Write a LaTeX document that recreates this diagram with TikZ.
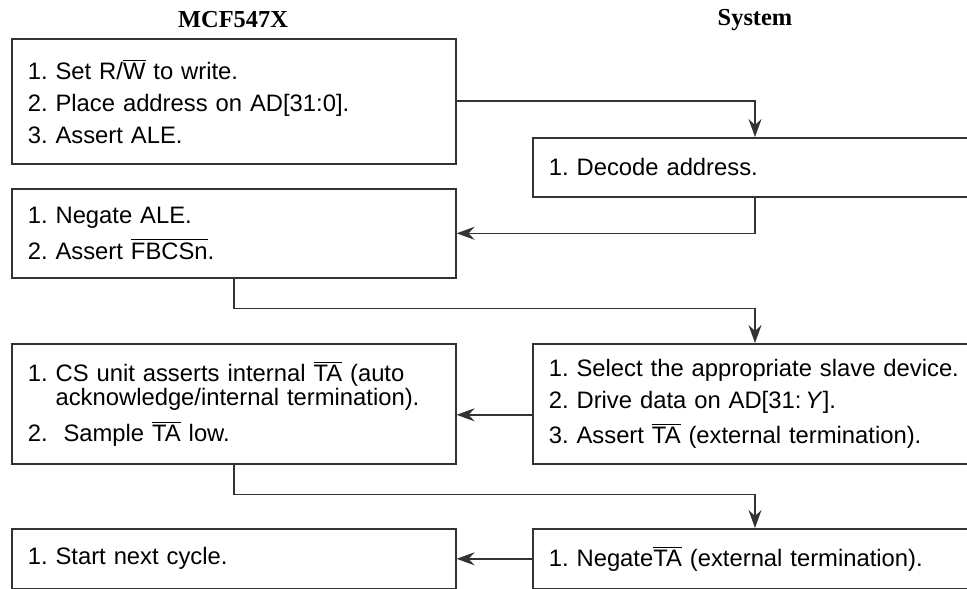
\documentclass[tikz,border=0pt]{standalone}
\usepackage{fontspec}
\setmainfont{Liberation Sans}
\newfontfamily\titlefont{Liberation Serif}
\usetikzlibrary{arrows.meta}
\newcommand{\sigbar}[1]{\ensuremath{\overline{\mbox{#1}}}}
\frenchspacing

\begin{document}
\begin{tikzpicture}[x=0.5pt, y=-0.5pt, font=\fontsize{11.9}{12}\selectfont,
    lbox/.style={draw=black!80, line width=0.8pt, anchor=north west, align=left, inner xsep=8pt, text width=206pt},
    rbox/.style={lbox, text width=218pt},
    arr/.style={-{Stealth[length=9pt, width=6.5pt, inset=3pt]}, draw=black!80, line width=0.8pt},
    ttl/.style={font=\titlefont\bfseries\fontsize{12.2}{12}\selectfont}]
    \useasboundingbox (0,0) rectangle (967,588);
    \node[ttl] (mcf) at (233,20) {MCF547X};
    \node[ttl] (sys) at (755,20) {System};
    \coordinate (rcol) at (755,0);
    % MCF547X side
    \node[lbox, minimum height=62.5pt] (a1) at (11,38) {1. Set R/\sigbar{W} to write.\\[4pt] 2. Place address on AD[31:0].\\[4pt] 3. Assert ALE.};
    \node[lbox, minimum height=44.5pt] (a2) at (11,188) {1. Negate ALE.\\[4pt] 2. Assert \sigbar{FBCSn}.};
    \node[lbox, minimum height=60pt] (a3) at (11,343) {1. CS unit asserts internal \sigbar{TA} (auto\\ \phantom{1. }acknowledge/internal termination).\\[4pt] 2.\ \ Sample \sigbar{TA} low.};
    \node[lbox, minimum height=30pt] (a4) at (11,528) {1. Start next cycle.};
    % System side
    \node[rbox, minimum height=29.5pt] (s1) at (532,137) {1. Decode address.};
    \node[rbox, minimum height=60pt] (s2) at (532,343) {1. Select the appropriate slave device.\\[4pt] 2. Drive data on AD[31:\,\textit{Y}].\\[4pt] 3. Assert \sigbar{TA} (external termination).};
    \node[rbox, minimum height=30pt] (s3) at (532,528) {1. Negate\sigbar{TA} (external termination).};
    % handshakes
    \draw[arr] (a1.east) -| (s1.north -| rcol);
    \draw[arr] (s1.south -| rcol) |- (a2.east);
    \draw[arr] (a2.south) -- ++(0,30) -| (s2.north -| rcol);
    \draw[arr] ([yshift=-5.5pt]s2.west) -- ([yshift=-5.5pt]s2.west -| a3.east);
    \draw[arr] (a3.south) -- ++(0,30) -| (s3.north -| rcol);
    \draw[arr] (s3.west) -- (a4.east);
\end{tikzpicture}
\end{document}
